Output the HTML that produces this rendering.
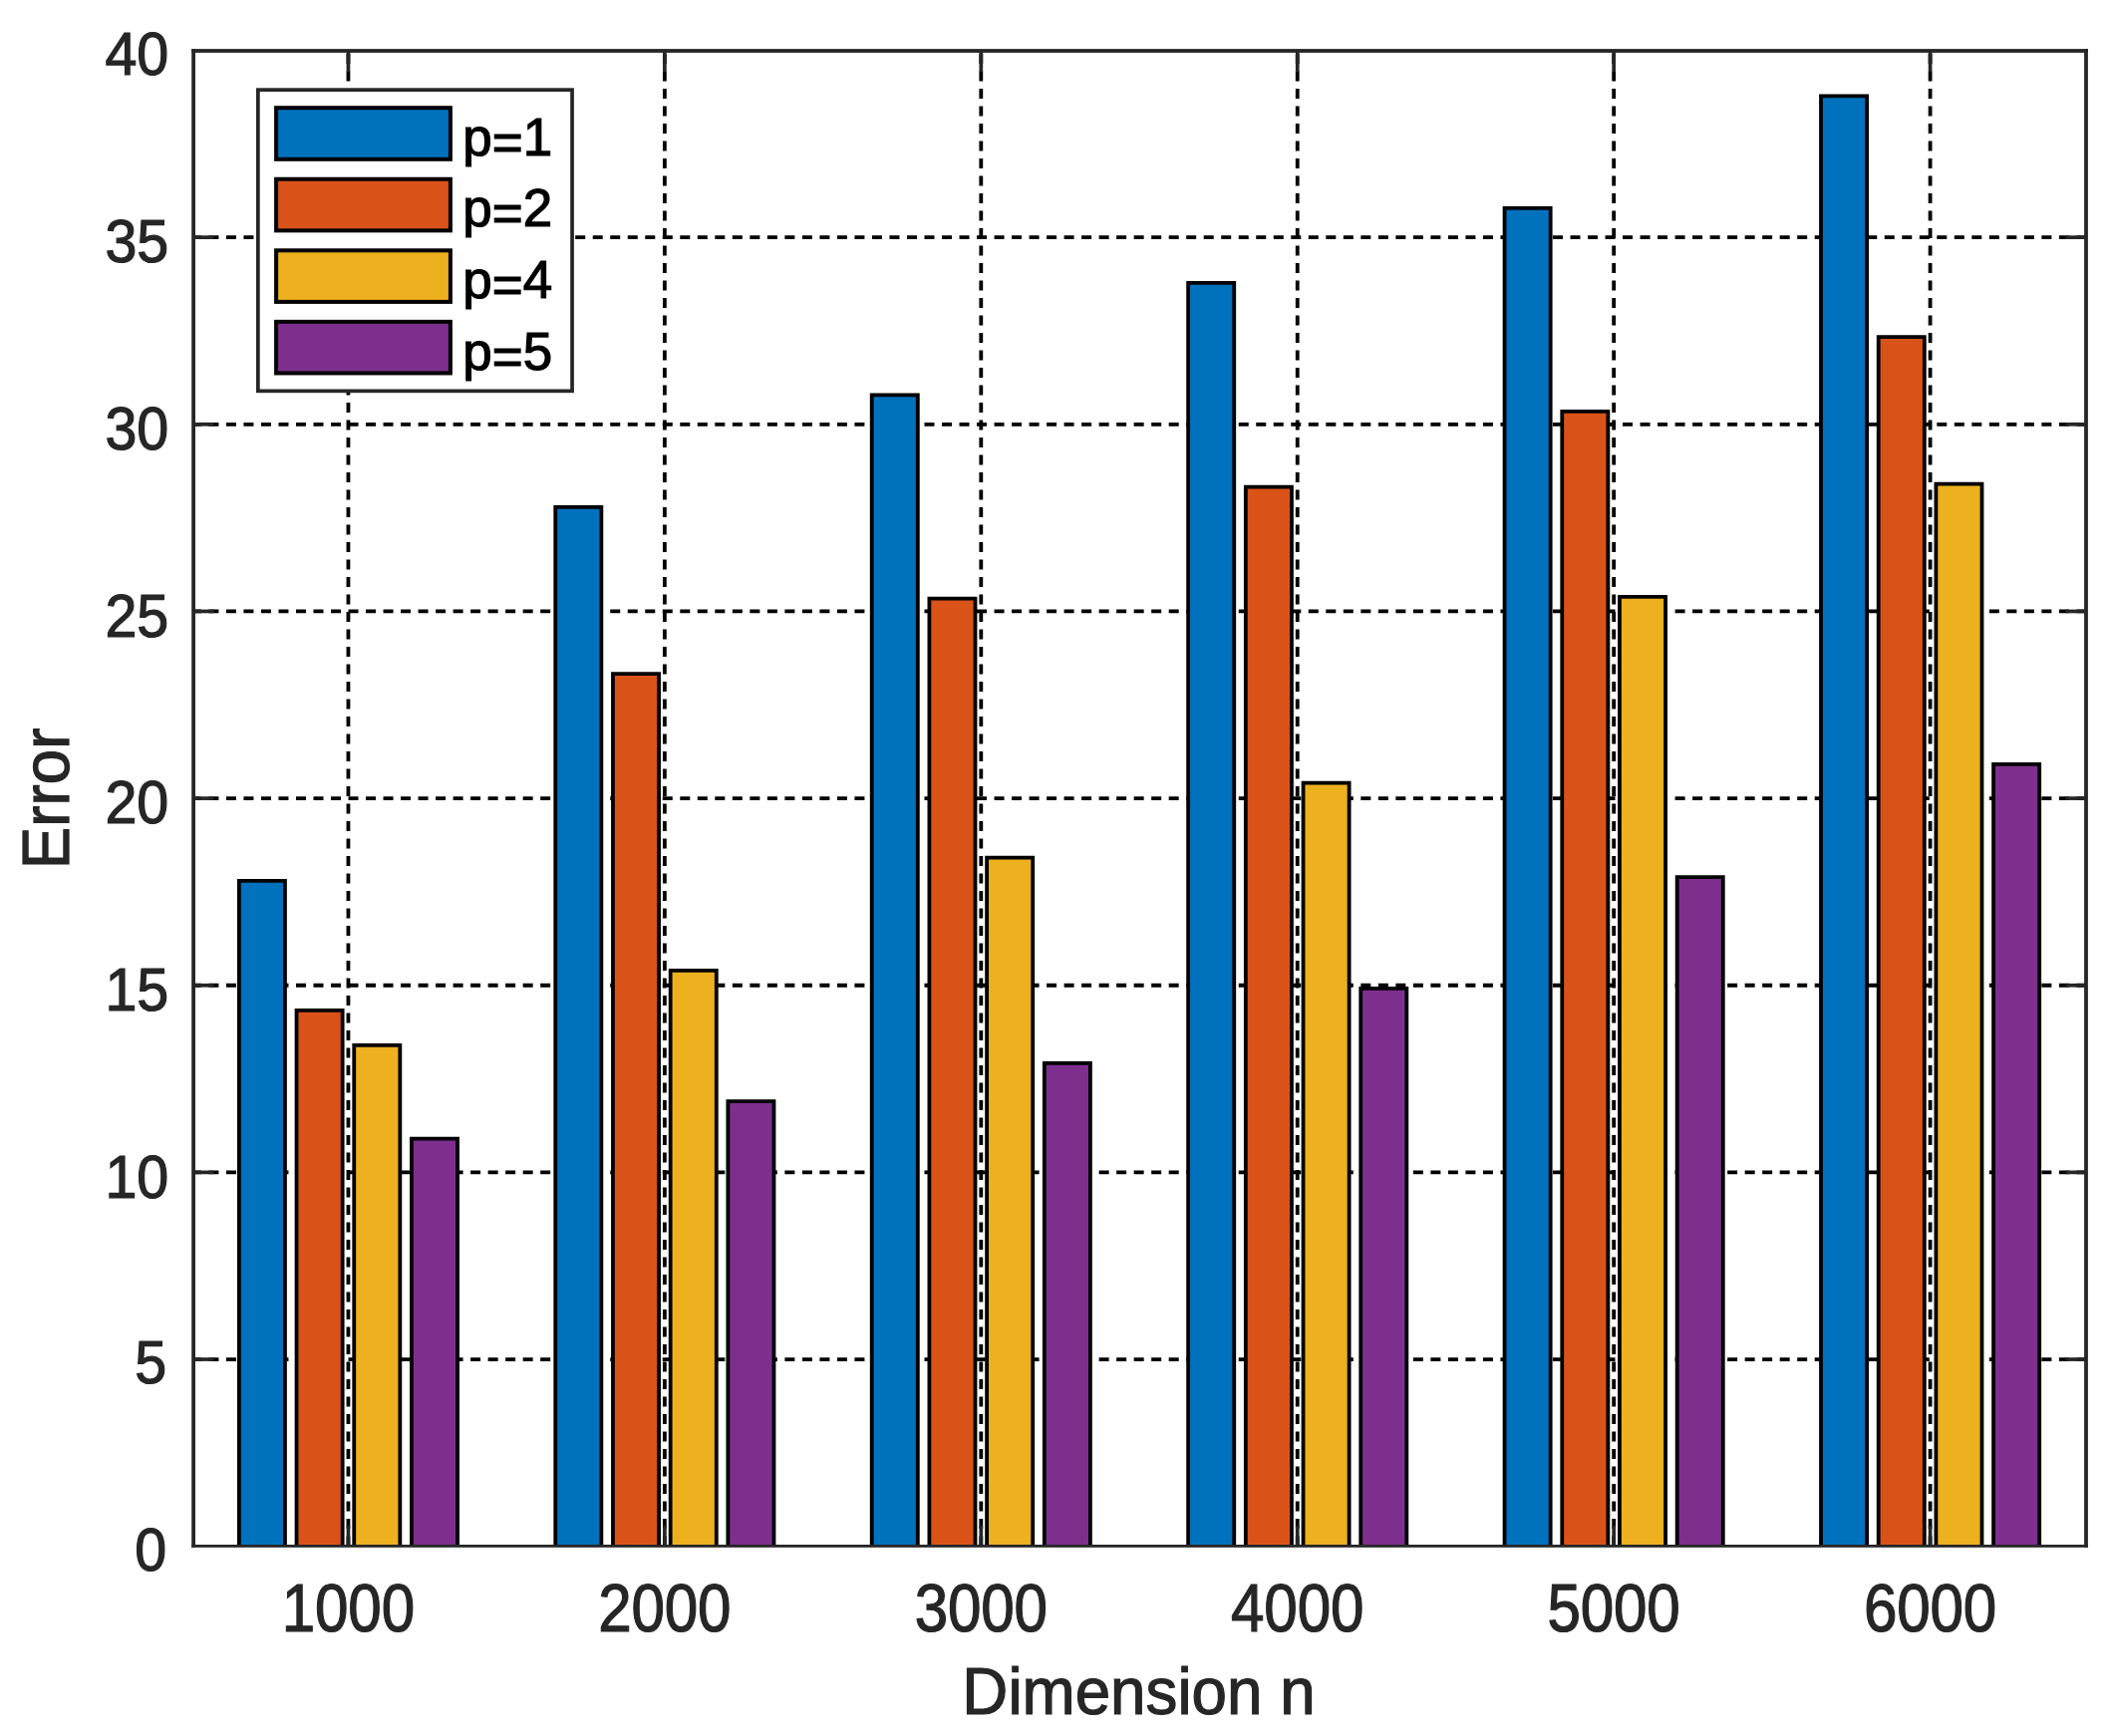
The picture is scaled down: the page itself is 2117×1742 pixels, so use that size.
<!DOCTYPE html>
<html lang="en"><head><meta charset="utf-8"><title>Error vs Dimension n</title>
<style>html,body{margin:0;padding:0;background:#fff}body{width:2117px;height:1742px;overflow:hidden}svg{display:block}text{font-family:"Liberation Sans",Arial,Helvetica,sans-serif}.t{fill:#262626;stroke:#262626;stroke-width:1.2}.l{fill:#000;stroke:#000;stroke-width:1.2}</style></head><body>
<svg width="2117" height="1742" viewBox="0 0 2117 1742">
<rect x="0" y="0" width="2117" height="1742" fill="#fff"/>
<g stroke="#000" stroke-width="3.8" stroke-dasharray="10 7.5" fill="none">
<line x1="194.1" y1="1364.05" x2="2093.00" y2="1364.05" stroke-dasharray="10 7.514" stroke-dashoffset="2.2"/>
<line x1="194.1" y1="1176.40" x2="2093.00" y2="1176.40" stroke-dasharray="10 7.514" stroke-dashoffset="2.2"/>
<line x1="194.1" y1="988.75" x2="2093.00" y2="988.75" stroke-dasharray="10 7.514" stroke-dashoffset="2.2"/>
<line x1="194.1" y1="801.10" x2="2093.00" y2="801.10" stroke-dasharray="10 7.514" stroke-dashoffset="2.2"/>
<line x1="194.1" y1="613.45" x2="2093.00" y2="613.45" stroke-dasharray="10 7.514" stroke-dashoffset="2.2"/>
<line x1="194.1" y1="425.80" x2="2093.00" y2="425.80" stroke-dasharray="10 7.514" stroke-dashoffset="2.2"/>
<line x1="194.1" y1="238.15" x2="2093.00" y2="238.15" stroke-dasharray="10 7.514" stroke-dashoffset="2.2"/>
<line x1="349.45" y1="54.1" x2="349.45" y2="1551.30"/>
<line x1="666.88" y1="54.1" x2="666.88" y2="1551.30"/>
<line x1="984.31" y1="54.1" x2="984.31" y2="1551.30"/>
<line x1="1301.74" y1="54.1" x2="1301.74" y2="1551.30"/>
<line x1="1619.17" y1="54.1" x2="1619.17" y2="1551.30"/>
<line x1="1936.60" y1="54.1" x2="1936.60" y2="1551.30"/>
</g>
<g stroke="#262626" stroke-width="3.7" fill="none">
<line x1="194.10" y1="1364.05" x2="214.60" y2="1364.05"/>
<line x1="2093.00" y1="1364.05" x2="2072.50" y2="1364.05"/>
<line x1="194.10" y1="1176.40" x2="214.60" y2="1176.40"/>
<line x1="2093.00" y1="1176.40" x2="2072.50" y2="1176.40"/>
<line x1="194.10" y1="988.75" x2="214.60" y2="988.75"/>
<line x1="2093.00" y1="988.75" x2="2072.50" y2="988.75"/>
<line x1="194.10" y1="801.10" x2="214.60" y2="801.10"/>
<line x1="2093.00" y1="801.10" x2="2072.50" y2="801.10"/>
<line x1="194.10" y1="613.45" x2="214.60" y2="613.45"/>
<line x1="2093.00" y1="613.45" x2="2072.50" y2="613.45"/>
<line x1="194.10" y1="425.80" x2="214.60" y2="425.80"/>
<line x1="2093.00" y1="425.80" x2="2072.50" y2="425.80"/>
<line x1="194.10" y1="238.15" x2="214.60" y2="238.15"/>
<line x1="2093.00" y1="238.15" x2="2072.50" y2="238.15"/>
<line x1="349.45" y1="51.00" x2="349.45" y2="72.30"/>
<line x1="349.45" y1="1551.30" x2="349.45" y2="1530.80"/>
<line x1="666.88" y1="51.00" x2="666.88" y2="72.30"/>
<line x1="666.88" y1="1551.30" x2="666.88" y2="1530.80"/>
<line x1="984.31" y1="51.00" x2="984.31" y2="72.30"/>
<line x1="984.31" y1="1551.30" x2="984.31" y2="1530.80"/>
<line x1="1301.74" y1="51.00" x2="1301.74" y2="72.30"/>
<line x1="1301.74" y1="1551.30" x2="1301.74" y2="1530.80"/>
<line x1="1619.17" y1="51.00" x2="1619.17" y2="72.30"/>
<line x1="1619.17" y1="1551.30" x2="1619.17" y2="1530.80"/>
<line x1="1936.60" y1="51.00" x2="1936.60" y2="72.30"/>
<line x1="1936.60" y1="1551.30" x2="1936.60" y2="1530.80"/>
</g>
<g stroke="#000" stroke-width="3.8">
<path d="M239.85 1551.4V883.80H285.95V1551.4" fill="#0072BD"/>
<path d="M297.55 1551.4V1013.92H343.65V1551.4" fill="#D95319"/>
<path d="M355.25 1551.4V1048.80H401.35V1551.4" fill="#EDB120"/>
<path d="M412.95 1551.4V1142.55H459.05V1551.4" fill="#7E2F8E"/>
<path d="M557.28 1551.4V508.80H603.38V1551.4" fill="#0072BD"/>
<path d="M614.98 1551.4V676.05H661.08V1551.4" fill="#D95319"/>
<path d="M672.68 1551.4V973.80H718.78V1551.4" fill="#EDB120"/>
<path d="M730.38 1551.4V1105.05H776.48V1551.4" fill="#7E2F8E"/>
<path d="M874.71 1551.4V396.30H920.81V1551.4" fill="#0072BD"/>
<path d="M932.41 1551.4V600.67H978.51V1551.4" fill="#D95319"/>
<path d="M990.11 1551.4V860.55H1036.21V1551.4" fill="#EDB120"/>
<path d="M1047.81 1551.4V1066.80H1093.91V1551.4" fill="#7E2F8E"/>
<path d="M1192.14 1551.4V283.80H1238.24V1551.4" fill="#0072BD"/>
<path d="M1249.84 1551.4V488.55H1295.94V1551.4" fill="#D95319"/>
<path d="M1307.54 1551.4V785.55H1353.64V1551.4" fill="#EDB120"/>
<path d="M1365.24 1551.4V991.80H1411.34V1551.4" fill="#7E2F8E"/>
<path d="M1509.57 1551.4V208.80H1555.67V1551.4" fill="#0072BD"/>
<path d="M1567.27 1551.4V412.80H1613.37V1551.4" fill="#D95319"/>
<path d="M1624.97 1551.4V598.80H1671.07V1551.4" fill="#EDB120"/>
<path d="M1682.67 1551.4V880.05H1728.77V1551.4" fill="#7E2F8E"/>
<path d="M1827.00 1551.4V96.30H1873.10V1551.4" fill="#0072BD"/>
<path d="M1884.70 1551.4V338.17H1930.80V1551.4" fill="#D95319"/>
<path d="M1942.40 1551.4V485.55H1988.50V1551.4" fill="#EDB120"/>
<path d="M2000.10 1551.4V766.80H2046.20V1551.4" fill="#7E2F8E"/>
</g>
<g fill="#262626">
<rect x="192.2" y="49.1" width="3.8" height="1503.7"/>
<rect x="2091.1" y="49.1" width="3.8" height="1503.7"/>
<rect x="192.2" y="49.1" width="1902.7" height="3.8"/>
<rect x="192.2" y="1550" width="1902.7" height="2.8"/>
</g>
<rect x="258.85" y="90.15" width="315.2" height="302.2" fill="#fff" stroke="#262626" stroke-width="3.7"/>
<rect x="277.10" y="108.20" width="174.80" height="51.60" fill="#0072BD" stroke="#000" stroke-width="4"/>
<text class="l" transform="translate(464.20 155.90) scale(0.995 1)" font-size="53.3" letter-spacing="0" text-anchor="start">p<tspan dy="5">=</tspan><tspan dy="-5">1</tspan></text>
<rect x="277.10" y="179.75" width="174.80" height="51.60" fill="#D95319" stroke="#000" stroke-width="4"/>
<text class="l" transform="translate(464.20 227.45) scale(0.995 1)" font-size="53.3" letter-spacing="0" text-anchor="start">p<tspan dy="5">=</tspan><tspan dy="-5">2</tspan></text>
<rect x="277.10" y="251.30" width="174.80" height="51.60" fill="#EDB120" stroke="#000" stroke-width="4"/>
<text class="l" transform="translate(464.20 299.00) scale(0.995 1)" font-size="53.3" letter-spacing="0" text-anchor="start">p<tspan dy="5">=</tspan><tspan dy="-5">4</tspan></text>
<rect x="277.10" y="322.85" width="174.80" height="51.60" fill="#7E2F8E" stroke="#000" stroke-width="4"/>
<text class="l" transform="translate(464.20 370.55) scale(0.995 1)" font-size="53.3" letter-spacing="0" text-anchor="start">p<tspan dy="5">=</tspan><tspan dy="-5">5</tspan></text>
<text class="t" transform="translate(167.30 1576.00) scale(0.9257 1)" font-size="62" letter-spacing="0" text-anchor="end">0</text>
<text class="t" transform="translate(167.30 1388.35) scale(0.9257 1)" font-size="62" letter-spacing="0" text-anchor="end">5</text>
<text class="t" transform="translate(169.30 1201.60) scale(0.9257 1)" font-size="62" letter-spacing="0" text-anchor="end">10</text>
<text class="t" transform="translate(169.30 1013.95) scale(0.9257 1)" font-size="62" letter-spacing="0" text-anchor="end">15</text>
<text class="t" transform="translate(169.30 826.30) scale(0.9257 1)" font-size="62" letter-spacing="0" text-anchor="end">20</text>
<text class="t" transform="translate(169.30 638.65) scale(0.9257 1)" font-size="62" letter-spacing="0" text-anchor="end">25</text>
<text class="t" transform="translate(169.30 451.00) scale(0.9257 1)" font-size="62" letter-spacing="0" text-anchor="end">30</text>
<text class="t" transform="translate(169.30 263.35) scale(0.9257 1)" font-size="62" letter-spacing="0" text-anchor="end">35</text>
<text class="t" transform="translate(169.30 75.00) scale(0.9257 1)" font-size="62" letter-spacing="0" text-anchor="end">40</text>
<text class="t" transform="translate(349.36 1637.30) scale(0.885 1)" font-size="68" letter-spacing="-0.2" text-anchor="middle">1000</text>
<text class="t" transform="translate(666.79 1637.30) scale(0.885 1)" font-size="68" letter-spacing="-0.2" text-anchor="middle">2000</text>
<text class="t" transform="translate(984.22 1637.30) scale(0.885 1)" font-size="68" letter-spacing="-0.2" text-anchor="middle">3000</text>
<text class="t" transform="translate(1301.65 1637.30) scale(0.885 1)" font-size="68" letter-spacing="-0.2" text-anchor="middle">4000</text>
<text class="t" transform="translate(1619.08 1637.30) scale(0.885 1)" font-size="68" letter-spacing="-0.2" text-anchor="middle">5000</text>
<text class="t" transform="translate(1936.51 1637.30) scale(0.885 1)" font-size="68" letter-spacing="-0.2" text-anchor="middle">6000</text>
<text class="t" transform="translate(1142.50 1720.00) scale(0.9445 1)" font-size="67.5" letter-spacing="0" text-anchor="middle">Dimension n</text>
<text class="t" transform="translate(69.30 801.40) rotate(-90) scale(0.9665 1)" font-size="66" letter-spacing="0" text-anchor="middle">Error</text>
</svg></body></html>
